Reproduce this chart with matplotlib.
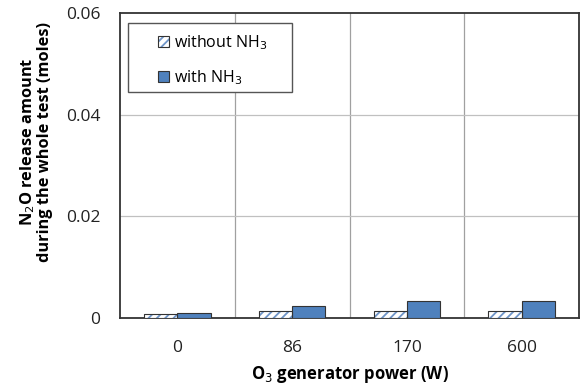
import numpy as np
import matplotlib
matplotlib.use('Agg')
import matplotlib.pyplot as plt
from matplotlib.patches import Rectangle
from matplotlib.legend_handler import HandlerTuple

plt.rcParams['font.family'] = ['Open Sans', 'DejaVu Sans']
plt.rcParams['hatch.linewidth'] = 1.3

categories = ['0', '86', '170', '600']
without_nh3 = [0.0008, 0.0014, 0.0014, 0.0014]
with_nh3 = [0.0009, 0.0024, 0.0033, 0.0034]
y_ticks = [0, 0.02, 0.04, 0.06]
y_tick_labels = ['0', '0.02', '0.04', '0.06']

fig = plt.figure(figsize=(5.81, 3.86), dpi=100)
ax = fig.add_axes([0.2065, 0.1762, 0.7901, 0.7901])

x = np.arange(len(categories))
w = 0.29
# hatched bars: blue stripes on white, dark outline on top
hb = ax.bar(x - w/2, without_nh3, w, color='white', edgecolor='#6f95c8',
            linewidth=0, hatch='////', zorder=3)
ho = ax.bar(x - w/2, without_nh3, w, fill=False, edgecolor='#333333',
            linewidth=0.8, zorder=4)
bb = ax.bar(x + w/2, with_nh3, w, color='#4f81bd', edgecolor='#333333',
            linewidth=0.8, zorder=3)

ax.set_xlim(-0.5, len(categories) - 0.5)
ax.set_ylim(0, 0.06)
ax.set_xticks(x)
ax.set_xticklabels(categories)
ax.set_yticks(y_ticks)
ax.set_yticklabels(y_tick_labels)
ax.tick_params(length=0, labelsize=12.5, colors='#222222')
ax.tick_params(axis='x', pad=16)
ax.tick_params(axis='y', pad=14)

# vertical grid at category boundaries
for b in np.arange(0.5, len(categories) - 0.5, 1):
    ax.axvline(b, color='#a0a0a0', linewidth=0.9, zorder=1)
for t in y_ticks[1:-1]:
    ax.axhline(t, color='#c0c0c0', linewidth=0.9, zorder=1)

for s in ax.spines.values():
    s.set_color('#333333')
    s.set_linewidth(1.3)

ax.set_xlabel('O$_3$ generator power (W)', fontsize=12, fontweight='bold')
ax.xaxis.set_label_coords(0.5, -0.15)
ax.set_ylabel('N$_2$O release amount\nduring the whole test (moles)', fontsize=11.8,
              fontweight='bold', linespacing=1.0)
ax.yaxis.set_label_coords(-0.146, 0.577)

# legend frame drawn separately to get the wide padding of the original
ax.add_patch(Rectangle((0.0174, 0.741), 0.357, 0.226, transform=ax.transAxes,
                       facecolor='white', edgecolor='#555555', linewidth=1.0,
                       zorder=5))
leg = ax.legend([(hb[0], ho[0]), bb[0]], ['without NH$_3$', 'with NH$_3$'],
                handler_map={tuple: HandlerTuple(ndivide=1, pad=0)},
                loc='upper left', bbox_to_anchor=(0.083, 0.934), fontsize=11.5,
                frameon=False, borderpad=0, labelspacing=1.0,
                handlelength=0.7, handleheight=0.7, handletextpad=0.3,
                borderaxespad=0)
leg.set_zorder(6)

fig.savefig('out.png', dpi=100)
